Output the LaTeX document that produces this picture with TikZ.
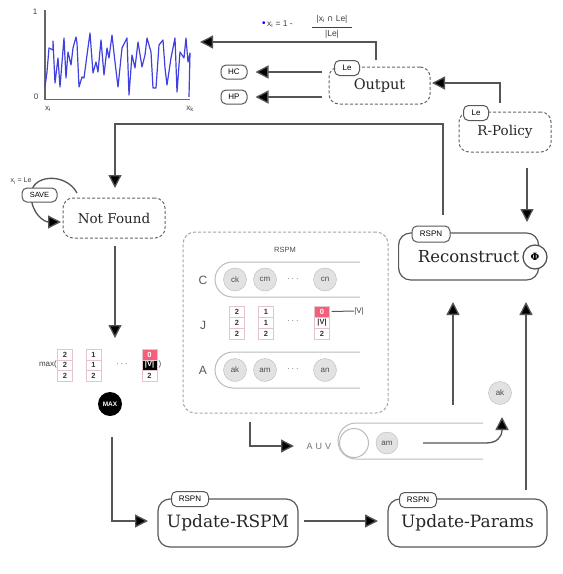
\documentclass[tikz,border=0pt]{standalone}
\usepackage{fontspec}
\setmainfont{DejaVu Serif}
\newfontfamily\lsans{Liberation Sans}
\newfontfamily\dvs{DejaVu Sans}
\usetikzlibrary{arrows.meta}
\definecolor{lc}{HTML}{555555}
\definecolor{pk}{HTML}{F2607A}
\definecolor{cellb}{HTML}{E5C5CB}
\definecolor{cg}{HTML}{E2E2E2}
\definecolor{cb}{HTML}{BBBBBB}
\definecolor{pl}{HTML}{4040E0}
\tikzset{
 arr/.style={draw=lc, line width=1.3pt, -{Triangle[length=13pt,width=13pt,fill=black]}},
 dbox/.style={draw=black!60, dash pattern=on 3pt off 2pt, rounded corners=10pt, line width=1pt, fill=white, font=\fontsize{13.5}{15}\selectfont, text=black!85},
 sbox/.style={draw=black!65, rounded corners=12pt, line width=1.2pt, fill=white, font=\fontsize{17}{19}\selectfont, text=black!85},
 tag/.style={draw=black!65, rounded corners=5pt, line width=1pt, fill=white, font=\lsans\fontsize{8}{9}\selectfont, inner sep=1pt, minimum height=15pt},
 cell/.style={draw=cellb, fill=white, minimum width=15pt, minimum height=10.5pt, inner sep=0pt, font=\lsans\bfseries\fontsize{7.5}{8}\selectfont, text=black!80},
 circ/.style={circle, draw=cb, fill=cg, minimum size=23pt, inner sep=0pt, font=\lsans\fontsize{8}{9}\selectfont, text=black!70},
 small/.style={font=\lsans\fontsize{8}{9}\selectfont, text=black!75, inner sep=0pt},
 dots/.style={font=\lsans\fontsize{9}{9}\selectfont, text=black!50, inner sep=0pt},
 capsule/.style={draw=cb, line width=1pt},
}
\begin{document}
\begin{tikzpicture}[x=1pt,y=-1pt]
\useasboundingbox (0,0) rectangle (563,574);
\fill[white] (0,0) rectangle (563,574);

% ---------- plot ----------
\draw[black!60, line width=1.5pt] (45,10) -- (45,99.5) -- (190,99.5);
\node[small] (one) at (35,12) {1};
\node[small] (zero) at (36,97) {0};
\node[small] (xi) at (48,109) {x\textsubscript{i}};
\node[small] (xk) at (190,109) {x\textsubscript{k}};
\draw[pl, line width=1.2pt, line join=round] (45,87) -- (47,72) -- (49,48) -- (53,50) -- (53,41) -- (55,83) -- (58,58) -- (60,87) -- (64,38) -- (66,78) -- (68,52) -- (71,65) -- (73,48) -- (76,37) -- (77,43) -- (79,87) -- (82,77) -- (84,78) -- (87,55) -- (90,33) -- (93,73) -- (96,62) -- (98,72) -- (101,40) -- (104,75) -- (107,48) -- (109,58) -- (112,35) -- (115,62) -- (118,87) -- (122,48) -- (127,38) -- (129,95) -- (132,55) -- (135,68) -- (138,42) -- (142,67) -- (145,55) -- (147,38) -- (151,52) -- (153,88) -- (156,88) -- (159,45) -- (163,40) -- (165,68) -- (167,85) -- (171,58) -- (175,38) -- (177,92) -- (180,52) -- (184,58) -- (186,38) -- (188,62) -- (190,53) -- (189,97);

% ---------- formula ----------
\node[small, anchor=west, font=\lsans\fontsize{8.5}{9}\selectfont] (feq) at (262,24) {\textcolor{blue}{\fontsize{10}{10}\selectfont•}\,x\textsubscript{i} = 1 -};
\node[small, font=\lsans\fontsize{8.5}{8}\selectfont] (fnum) at (332,19) {|x\textsubscript{i} {\dvs ∩} Le|};
\node[small, font=\lsans\fontsize{8.5}{8}\selectfont] (fden) at (332,34) {|Le|};
\draw[black!75, line width=0.6pt] (312,27) -- (352,27);

% ---------- Output / HC / HP ----------
\node[dbox, minimum width=101pt, minimum height=37pt, font=\fontsize{14.5}{16}\selectfont, text depth=0pt, text height=8pt] (out) at (379.5,85.5) {Output};
\node[tag, minimum width=25pt] (outle) at (347,68) {Le};
\node[tag, minimum width=26pt, minimum height=14pt] (hc) at (234,72) {HC};
\node[tag, minimum width=26pt, minimum height=14pt] (hp) at (234,97) {HP};
\coordinate (ot) at (376,60);
\coordinate (pt) at (200,42);
\draw[arr] (ot) |- (pt);
\coordinate (hcs) at (322,72);
\coordinate (hps) at (322,97);
\draw[arr] (hcs) -- ([xshift=8pt]hc.east);
\draw[arr] (hps) -- ([xshift=8pt]hp.east);

% ---------- R-Policy ----------
\node[dbox, minimum width=92pt, minimum height=40pt] (rp) at (505,132) {R-Policy};
\node[tag, minimum width=25pt] (rple) at (476,113) {Le};
\coordinate (rpt) at (500,103);
\coordinate (oe) at (432,83);
\draw[arr] (rpt) |- (oe);

% ---------- Not Found ----------
\node[dbox, minimum width=102pt, minimum height=40pt] (nf) at (114,218) {Not Found};
\coordinate (ls) at (77,193);
\coordinate (nfw) at (61,222);
\draw[arr] (ls) .. controls (66,172) and (30,174) .. (31,196) .. controls (32,215) and (45,222) .. (nfw);
\node[tag, minimum width=35pt, minimum height=14pt, font=\lsans\fontsize{7.5}{8}\selectfont] (save) at (39.5,195) {SAVE};
\node[small, font=\lsans\fontsize{7}{8}\selectfont] (xle) at (21,181) {x\textsubscript{i} = Le};

% ---------- Reconstruct ----------
\node[sbox, minimum width=140pt, minimum height=47pt, anchor=west, font=\fontsize{16.5}{19}\selectfont] (rec) at (398,256.5) {Reconstruct\hspace{16pt}};
\node[circle, draw=black!70, line width=1.2pt, fill=white, minimum size=24pt, inner sep=0pt, font=\fontsize{10}{10}\selectfont\bfseries] (phi) at (535,257) {Φ};
\node[tag, minimum width=38pt, minimum height=16pt] (recrs) at (431,234) {RSPN};
\coordinate (rpb) at (527,168);
\coordinate (rect) at (527,222);
\draw[arr] (rpb) -- (rect);
\coordinate (r1) at (443,215);
\coordinate (r2) at (115,124);
\coordinate (nft) at (115,188);
\draw[arr] (r1) |- (r2) -- (nft);

% ---------- max matrix ----------
\coordinate (nfb) at (115,246);
\coordinate (mt) at (115,338);
\draw[arr] (nfb) -- (mt);
\node[small, anchor=east, font=\lsans\fontsize{8}{9}\selectfont] (maxl) at (57,364) {max(};
\node[cell] (m11) at (65,354.5) {2};
\node[cell] (m12) at (65,365) {2};
\node[cell] (m13) at (65,375.5) {2};
\node[cell] (m21) at (93.5,354.5) {1};
\node[cell] (m22) at (93.5,365) {1};
\node[cell] (m23) at (93.5,375.5) {2};
\node[dots] (mdots) at (122,365) {·\,·\,·};
\node[cell, fill=pk, text=white] (m31) at (149.5,354.5) {0};
\node[cell, fill=black, text=white] (m32) at (149.5,365) {|V|};
\node[cell] (m33) at (149.5,375.5) {2};
\node[small, font=\lsans\fontsize{8}{9}\selectfont] (maxr) at (160,364) {)};
\node[circle, fill=black, minimum size=24pt, inner sep=0pt, text=white, font=\lsans\bfseries\fontsize{6.5}{7}\selectfont] (maxc) at (110,404) {MAX};

% ---------- Update nodes ----------
\node[sbox, minimum width=140pt, minimum height=48pt] (ur) at (228,523) {Update-RSPM};
\node[tag, minimum width=37pt, minimum height=15pt] (urrs) at (190,499) {RSPN};
\node[sbox, minimum width=159pt, minimum height=48pt] (up) at (467.5,523) {Update-Params};
\node[tag, minimum width=37pt, minimum height=15pt] (uprs) at (418,500) {RSPN};
\coordinate (mb) at (112,437);
\coordinate (urw) at (148,521);
\draw[arr] (mb) |- (urw);
\coordinate (ure) at (304,521);
\coordinate (upw) at (378,521);
\draw[arr] (ure) -- (upw);
\coordinate (upt) at (526,490);
\coordinate (recb2) at (526,302);
\draw[arr] (upt) -- (recb2);

% ---------- RSPM panel ----------
\node[draw=black!35, dash pattern=on 3pt off 2pt, rounded corners=12pt, line width=1pt, minimum width=205pt, minimum height=181pt] (rspm) at (285.5,322.5) {};
\node[small, font=\lsans\fontsize{7.5}{8}\selectfont, text=black!70] (rspml) at (285,250) {RSPM};
% row C
\node[small, font=\lsans\fontsize{12}{12}\selectfont, text=black!65] (lc) at (203,280) {C};
\draw[capsule] (360,262) -- (232.5,262) arc[start angle=90, end angle=270, radius=17.5pt] -- (360,297);
\node[circ] (ck) at (235,279.5) {ck};
\node[circ] (cm) at (265,279.5) {cm};
\node[dots] (cdots) at (293,280) {·\,·\,·};
\node[circ] (cn) at (325,279.5) {cn};
% row J
\node[small, font=\lsans\fontsize{12}{12}\selectfont, text=black!65] (lj) at (203,325) {J};
\node[cell] (j11) at (237,311.5) {2};
\node[cell] (j12) at (237,322.5) {2};
\node[cell] (j13) at (237,333.5) {2};
\node[cell] (j21) at (266,311.5) {1};
\node[cell] (j22) at (266,322.5) {1};
\node[cell] (j23) at (266,333.5) {2};
\node[dots] (jdots) at (293,322) {·\,·\,·};
\node[cell, fill=pk, text=white] (j31) at (322,311.5) {0};
\node[cell] (j32) at (322,322.5) {|V|};
\node[cell] (j33) at (322,333.5) {2};
\node[small, font=\lsans\fontsize{8}{9}\selectfont] (vl) at (359,311) {|V|};
\draw[black!65, line width=1pt] (j31.east) ++(2pt,0) -- (vl.west);
% row A
\node[small, font=\lsans\fontsize{12}{12}\selectfont, text=black!65] (la) at (203,370) {A};
\draw[capsule] (360,352) -- (233,352) arc[start angle=90, end angle=270, radius=18pt] -- (360,388);
\node[circ] (ak) at (235,370) {ak};
\node[circ] (am) at (265,370) {am};
\node[dots] (adots) at (293,370) {·\,·\,·};
\node[circ] (an) at (325,370) {an};

% ---------- AUV ----------
\coordinate (rs1) at (250,422);
\coordinate (auvt) at (294,446);
\draw[arr] (rs1) |- (auvt);
\node[small, font=\lsans\fontsize{9}{9}\selectfont, text=black!55] (auv) at (319,446) {A\,\,U\,\,V};
\draw[capsule] (483,423) -- (356,423) arc[start angle=90, end angle=270, radius=18pt] -- (483,459);
\node[circle, draw=cb, line width=1pt, fill=white, minimum size=29pt] (emp) at (354,443) {};
\node[circ, minimum size=22pt] (am2) at (387,443) {am};
\node[circ] (ak2) at (500,393) {ak};
\coordinate (ah) at (423,443);
\coordinate (atip) at (502,417);
\draw[arr] (ah) -- (486,443) .. controls (497,443) and (502,437) .. (atip);
\coordinate (v1) at (453,405);
\coordinate (v2) at (453,302);
\draw[arr] (v1) -- (v2);
\end{tikzpicture}
\end{document}
